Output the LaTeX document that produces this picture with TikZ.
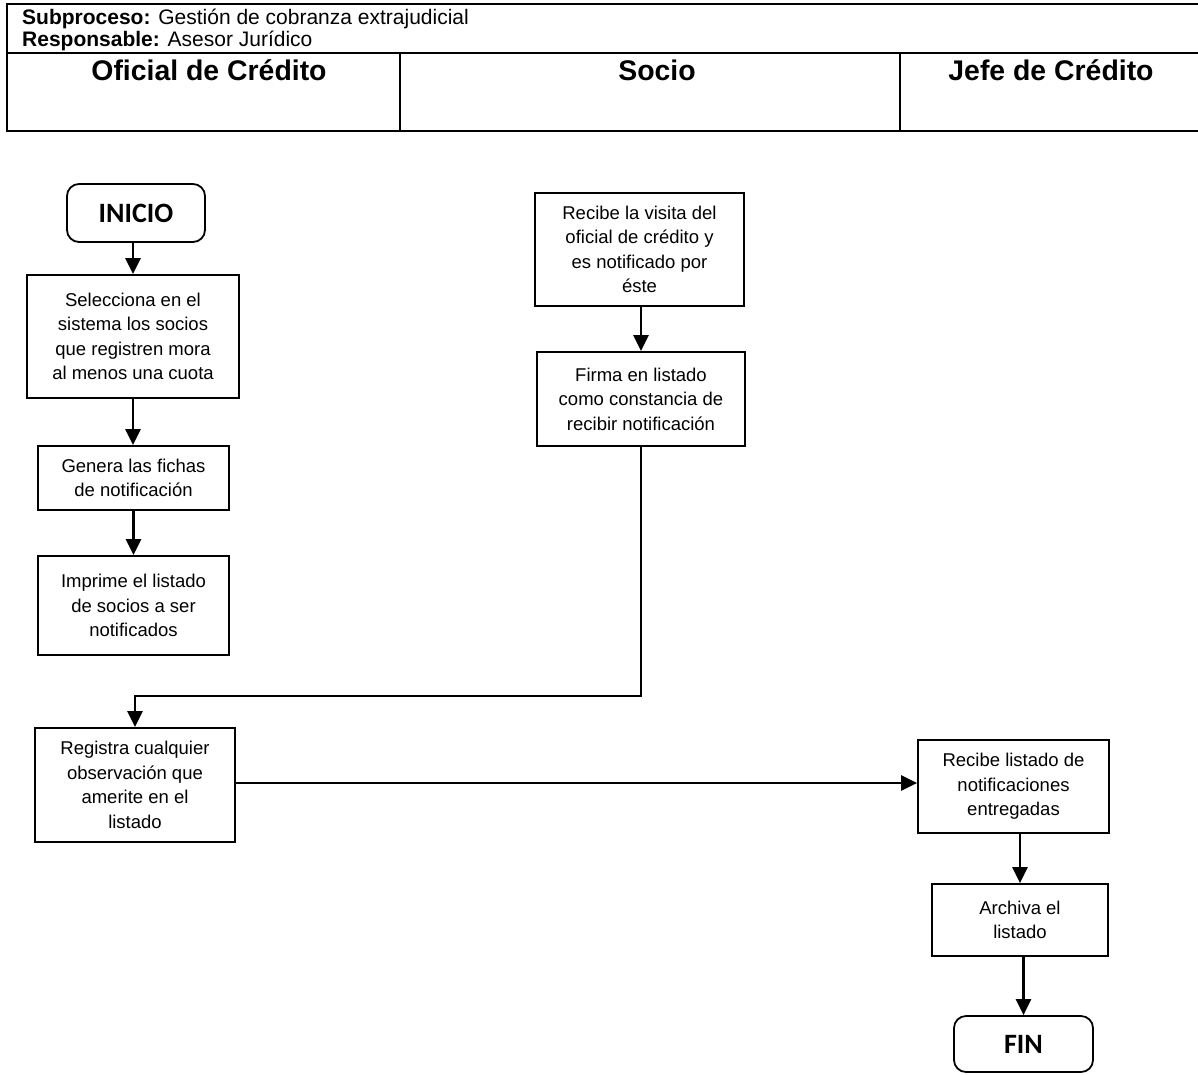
\documentclass[tikz,border=0pt]{standalone}
\usepackage{fontspec}
\setmainfont{Liberation Sans}
\newfontfamily\calibri{Carlito}
\usetikzlibrary{arrows.meta}

\begin{document}
\begin{tikzpicture}[x=1pt,y=-1pt,
  box/.style={draw,line width=1.8pt,inner sep=0pt,align=center,
              font=\fontsize{18.5}{24.5}\selectfont},
  term/.style={draw,line width=1.8pt,rounded corners=12pt,inner sep=0pt,
               font=\calibri\bfseries\fontsize{28}{30}\selectfont},
  flow/.style={line width=2.5pt,-{Triangle[length=16pt,width=15pt]}},
  rule/.style={line width=2.5pt},
  lane/.style={font=\bfseries\fontsize{28.4}{32}\selectfont,anchor=base,inner sep=0pt},
  info/.style={font=\fontsize{21}{24}\selectfont,anchor=base west,inner sep=0pt}
]
\fill[white] (0,0) rectangle (1198,1074);
\useasboundingbox (0,0) rectangle (1198,1074);

% header table
\draw[rule] (7,4) rectangle (1210,131);
\draw[rule] (7,53) -- (1210,53);
\draw[rule] (400,53) -- (400,131);
\draw[rule] (900,53) -- (900,131);
\node[info] (subp) at (22,24) {\textbf{Subproceso:} Gestión de cobranza extrajudicial};
\node[info] (resp) at (22,46) {\textbf{Responsable:} Asesor Jurídico};
\node[lane] (lane1) at (209,80) {Oficial de Crédito};
\node[lane] (lane2) at (657,80) {Socio};
\node[lane] (lane3) at (1051,80) {Jefe de Crédito};

% Oficial de Crédito
\node[term,minimum width=138pt,minimum height=58pt] (inicio) at (136,213) {INICIO};
\node[box,minimum width=212pt,minimum height=123pt] (b1) at (133,336.5)
  {Selecciona en el\\sistema los socios\\que registren mora\\al menos una cuota};
\node[box,minimum width=191pt,minimum height=64pt] (b2) at (133.5,478)
  {Genera las fichas\\de notificación};
\node[box,minimum width=191pt,minimum height=99pt] (b3) at (133.5,605.5)
  {Imprime el listado\\de socios a ser\\notificados};
\node[box,minimum width=200pt,minimum height=114pt] (b6) at (135,785)
  {Registra cualquier\\observación que\\amerite en el\\listado};

% Socio
\node[box,minimum width=209pt,minimum height=113pt] (b4) at (639.5,249.5)
  {Recibe la visita del\\oficial de crédito y\\es notificado por\\éste};
\node[box,minimum width=208pt,minimum height=94pt] (b5) at (641,399)
  {Firma en listado\\como constancia de\\recibir notificación};

% Jefe de Crédito
\node[box,minimum width=191pt,minimum height=93pt] (b7) at (1013.5,786.5)
  {Recibe listado de\\notificaciones\\entregadas};
\node[box,minimum width=176pt,minimum height=72pt] (b8) at (1020,920)
  {Archiva el\\listado};
\node[term,minimum width=139pt,minimum height=56pt] (fin) at (1023.5,1044) {FIN};

% connectors
\coordinate (turn) at (641,696);
\draw[flow] (inicio.south -| b1.north) -- (b1.north);
\draw[flow] (b1.south) -- (b1.south |- b2.north);
\draw[flow] (b2.south) -- (b2.south |- b3.north);
\draw[flow] (b5.north |- b4.south) -- (b5.north);
\draw[flow] (b5.south) -- (turn) -| (b6.north);
\draw[flow] (b6.east |- 0,783) -- (b7.west |- 0,783);
\draw[flow] (b7.south -| b8.north) -- (b8.north);
\draw[flow] (b8.south -| fin.north) -- (fin.north);
\end{tikzpicture}
\end{document}
